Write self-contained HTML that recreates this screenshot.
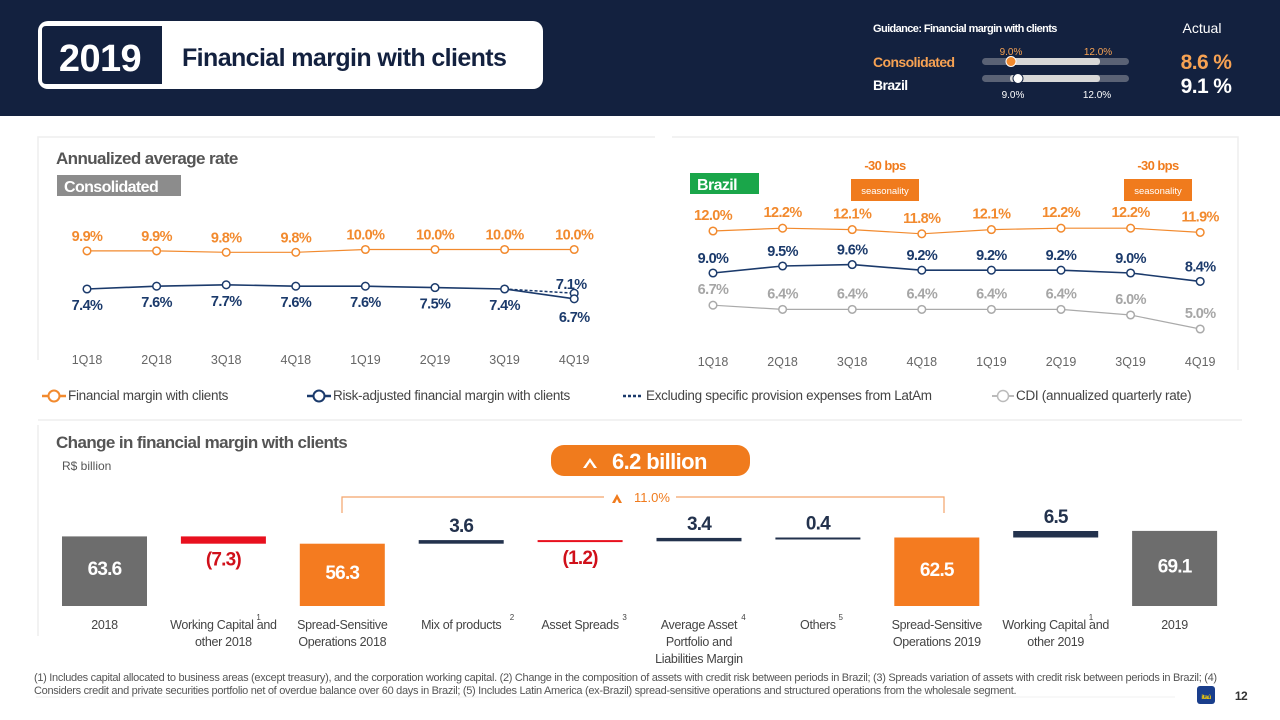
<!DOCTYPE html>
<html><head><meta charset="utf-8">
<style>
html,body{margin:0;padding:0;background:#fff;}
svg{display:block;font-family:"Liberation Sans",sans-serif;}
.b{font-weight:bold;letter-spacing:-0.6px;}
</style></head>
<body>
<svg id="s" width="1280" height="720" viewBox="0 0 1280 720" xmlns="http://www.w3.org/2000/svg">
<rect x="0" y="0" width="1280" height="116" fill="#13213f"/>
<rect x="38" y="21" width="505" height="68" rx="10" fill="#fff"/>
<path d="M46 26 H162 V84 H46 Q42 84 42 80 V30 Q42 26 46 26Z" fill="#13213f"/>
<text x="100" y="71" text-anchor="middle" fill="#fff" font-size="38" class="b">2019</text>
<text x="182" y="66" fill="#13213f" font-size="25" class="b">Financial margin with clients</text>

<g>
<text x="873" y="32" fill="#fff" font-size="11" class="b">Guidance: Financial margin with clients</text>
<text x="1202" y="33" fill="#fff" font-size="14" text-anchor="middle">Actual</text>
<text x="873" y="67" fill="#f7a253" font-size="14" class="b">Consolidated</text>
<text x="873" y="90" fill="#fff" font-size="14" class="b">Brazil</text>
<text x="1011" y="55" fill="#f7a253" font-size="10" text-anchor="middle">9.0%</text>
<text x="1098" y="55" fill="#f7a253" font-size="10" text-anchor="middle">12.0%</text>
<rect x="982" y="58" width="147" height="7" rx="3.5" fill="#5a6275"/>
<rect x="1010" y="58" width="90" height="7" rx="3" fill="#d8d8d8"/>
<circle cx="1011" cy="61.5" r="5" fill="#f28a2e" stroke="#fff" stroke-width="1"/>
<rect x="982" y="75" width="147" height="7" rx="3.5" fill="#5a6275"/>
<rect x="1010" y="75" width="90" height="7" rx="3" fill="#d8d8d8"/>
<circle cx="1018" cy="78.5" r="5" fill="#fff" stroke="#13213f" stroke-width="1"/>
<text x="1013" y="98" fill="#fff" font-size="10" text-anchor="middle">9.0%</text>
<text x="1097" y="98" fill="#fff" font-size="10" text-anchor="middle">12.0%</text>
<text x="1206" y="69" fill="#f7a253" font-size="21" class="b" text-anchor="middle">8.6 %</text>
<text x="1206" y="93" fill="#fff" font-size="21" class="b" text-anchor="middle">9.1 %</text>
</g>

<path d="M38 360 V137 H655" fill="none" stroke="#eee" stroke-width="1.5"/>
<path d="M672 137 H1238 V370" fill="none" stroke="#eee" stroke-width="1.5"/>
<line x1="38" y1="420" x2="1242" y2="420" stroke="#eee" stroke-width="1.5"/>
<line x1="38" y1="425" x2="38" y2="636" stroke="#eee" stroke-width="1.5"/>

<text x="56" y="164" fill="#555" font-size="17" class="b">Annualized average rate</text>
<rect x="57" y="175" width="124" height="21" fill="#8c8c8c"/>
<text x="64" y="192" fill="#fff" font-size="16" class="b">Consolidated</text>
<rect x="690" y="173" width="69" height="21" fill="#1aa64a"/>
<text x="697" y="190" fill="#fff" font-size="16" class="b">Brazil</text>

<g>
<text x="885" y="170" fill="#f07b1d" font-size="13" class="b" text-anchor="middle">-30 bps</text>
<rect x="851" y="179" width="68" height="22" fill="#f07b1d"/>
<text x="885" y="194" fill="#fff" font-size="9.5" text-anchor="middle">seasonality</text>
</g>
<g>
<text x="1158" y="170" fill="#f07b1d" font-size="13" class="b" text-anchor="middle">-30 bps</text>
<rect x="1124" y="179" width="68" height="22" fill="#f07b1d"/>
<text x="1158" y="194" fill="#fff" font-size="9.5" text-anchor="middle">seasonality</text>
</g>

<g id="lc"></g>
<g id="rc"></g>

<g>
<g><line x1="42" y1="396" x2="66" y2="396" stroke="#f28a2e" stroke-width="2.5"/><circle cx="54" cy="396" r="5.5" fill="#fff" stroke="#f28a2e" stroke-width="2"/><text x="68" y="400" font-size="13.5" fill="#444" letter-spacing="-0.3">Financial margin with clients</text></g>
<g><line x1="307" y1="396" x2="331" y2="396" stroke="#1b3a6b" stroke-width="2.5"/><circle cx="319" cy="396" r="5.5" fill="#fff" stroke="#1b3a6b" stroke-width="2"/><text x="333" y="400" font-size="13.5" fill="#444" letter-spacing="-0.3">Risk-adjusted financial margin with clients</text></g>
<g><line x1="623" y1="396" x2="643" y2="396" stroke="#1b3a6b" stroke-width="2.5" stroke-dasharray="3,2"/><text x="646" y="400" font-size="13.5" fill="#444" letter-spacing="-0.3">Excluding specific provision expenses from LatAm</text></g>
<g><line x1="992" y1="396" x2="1014" y2="396" stroke="#bbb" stroke-width="2"/><circle cx="1003" cy="396" r="5.5" fill="#fff" stroke="#bbb" stroke-width="1.5"/><text x="1016" y="400" font-size="13.5" fill="#444" letter-spacing="-0.3">CDI (annualized quarterly rate)</text></g>
</g>

<text x="56" y="448" fill="#555" font-size="17" class="b">Change in financial margin with clients</text>
<text x="62" y="470" fill="#555" font-size="12">R$ billion</text>
<rect x="551" y="445" width="199" height="31" rx="13" fill="#f07b1d"/>
<path d="M583 468 L590 458 L597 468 L594 468 L590 462 L586 468Z" fill="#fff"/>
<text x="612" y="469" fill="#fff" font-size="22" class="b">6.2 billion</text>
<path d="M342 513 V497 H604 M676 497 H944 V513" fill="none" stroke="#f4a46a" stroke-width="1.2"/>
<path d="M612 503 L617 494 L622 503 L619 503 L617 499 L615 503Z" fill="#f07b1d"/>
<text x="634" y="502" fill="#f07b1d" font-size="13">11.0%</text>

<g id="wf"></g>

<g font-size="11" fill="#555" letter-spacing="-0.3">
<text x="34" y="681">(1) Includes capital allocated to business areas (except treasury), and the corporation working capital. (2) Change in the composition of assets with credit risk between periods in Brazil; (3) Spreads variation of assets with credit risk between periods in Brazil; (4)</text>
<text x="34" y="694">Considers credit and private securities portfolio net of overdue balance over 60 days in Brazil; (5) Includes Latin America (ex-Brazil) spread-sensitive operations and structured operations from the wholesale segment.</text>
</g>
<line x1="36" y1="697" x2="1175" y2="697" stroke="#f2f2f2"/>
<rect x="1197" y="686" width="18" height="18" rx="3" fill="#1a3e8c"/>
<text x="1206" y="699" fill="#ffd200" font-size="6.5" text-anchor="middle" class="b">itaú</text>
<text x="1241" y="700" fill="#333" font-size="12" class="b" text-anchor="middle">12</text>
</svg>

<script>
const NS="http://www.w3.org/2000/svg";
const quarters=["1Q18","2Q18","3Q18","4Q18","1Q19","2Q19","3Q19","4Q19"];
const consFmc=[9.9,9.9,9.8,9.8,10.0,10.0,10.0,10.0];
const consRisk=[7.4,7.6,7.7,7.6,7.6,7.5,7.4,6.7];
const consExLatam=[7.4,7.1];
const brFmc=[12.0,12.2,12.1,11.8,12.1,12.2,12.2,11.9];
const brRisk=[9.0,9.5,9.6,9.2,9.2,9.2,9.0,8.4];
const brCdi=[6.7,6.4,6.4,6.4,6.4,6.4,6.0,5.0];
const wfCats=[["2018"],["Working Capital and","other 2018"],["Spread-Sensitive","Operations 2018"],["Mix of products"],["Asset Spreads"],["Average Asset","Portfolio and","Liabilities Margin"],["Others"],["Spread-Sensitive","Operations 2019"],["Working Capital and","other 2019"],["2019"]];
const wfSup=["","1","","2","3","4","5","","1",""];
const wfValues=[63.6,-7.3,56.3,3.6,-1.2,3.4,0.4,62.5,6.5,69.1];
const wfLabels=["63.6","(7.3)","56.3","3.6","(1.2)","3.4","0.4","62.5","6.5","69.1"];
const wfKind=["total","delta","subtotal","delta","delta","delta","delta","subtotal","delta","total"];

function el(tag,attrs,parent,txt){const e=document.createElementNS(NS,tag);for(const k in attrs)e.setAttribute(k,attrs[k]);if(txt!==undefined)e.textContent=txt;parent.appendChild(e);return e;}
function fmt(v){return v.toFixed(1)+"%";}

function lineChart(g,x0,step,k,series,axisY){
  const X=i=>x0+i*step;
  quarters.forEach((q,i)=>{const t=el("text",{x:X(i),y:axisY,"text-anchor":"middle","font-size":"12.5",fill:"#666"},g,q);
    
    });
  series.forEach(s=>{
    const Y=v=>s.yA-k*v;
    const pts=s.data.map((v,i)=>X(i)+","+Y(v)).join(" ");
    const pl=el("polyline",{points:pts,fill:"none",stroke:s.color,"stroke-width":s.w},g);
    
    
    s.data.forEach((v,i)=>{
      const c=el("circle",{cx:X(i),cy:Y(v),r:3.8,fill:"#fff",stroke:s.color,"stroke-width":1.5},g);
      
      
      const t=el("text",{x:X(i),y:Y(v)+s.off(i),"text-anchor":"middle","font-size":"14.5","font-weight":"bold","letter-spacing":"-0.6",fill:s.tcolor},g,fmt(v));
      
      
    });
  });
}
const lc=document.getElementById("lc");
(function(){const X=i=>87+i*69.6,Y=v=>392.6-14*v;
 const d=el("polyline",{points:X(6)+","+Y(consExLatam[0])+" "+X(7)+","+Y(consExLatam[1]),fill:"none",stroke:"#1b3a6b","stroke-width":1.5,"stroke-dasharray":"3,2"},lc);
 
 
 const c=el("circle",{cx:X(7),cy:Y(consExLatam[1]),r:3.8,fill:"#fff",stroke:"#1b3a6b","stroke-width":1.5},lc);
 
 
 const t=el("text",{x:X(7)-3,y:Y(consExLatam[1])-4,"text-anchor":"middle","font-size":"14.5","font-weight":"bold","letter-spacing":"-0.6",fill:"#1b3a6b"},lc,fmt(consExLatam[1]));
 
 
})();
lineChart(lc,87,69.6,14,[
 {name:"fmc",data:consFmc,yA:389.5,color:"#f28a2e",tcolor:"#f28a2e",w:1.2,off:()=>-10},
 {name:"risk-adjusted",data:consRisk,yA:392.6,color:"#1b3a6b",tcolor:"#1b3a6b",w:1.6,off:i=>i==7?23:21}
],364);
const rc=document.getElementById("rc");
lineChart(rc,713,69.6,14,[
 {name:"brazil-fmc",data:brFmc,yA:399,color:"#f28a2e",tcolor:"#f28a2e",w:1.2,off:()=>-11},
 {name:"brazil-risk-adjusted",data:brRisk,yA:399,color:"#1b3a6b",tcolor:"#1b3a6b",w:1.6,off:()=>-10},
 {name:"cdi",data:brCdi,yA:399,color:"#aaa",tcolor:"#a6a6a6",w:1.2,off:()=>-11}
],366);

const wf=document.getElementById("wf");
const WX=i=>104.5+i*118.9, WY=v=>600-v, base=606, bw=85;
let run=0;
wfValues.forEach((v,i)=>{
  const kind=wfKind[i]; let top,bot,fill,ly,lc2;
  if(kind!=="delta"){run=v;top=WY(v);bot=base;fill=kind==="total"?"#6d6d6d":"#f47b20";}
  else{const s=run,e=run+v;run=e;top=Math.min(WY(s),WY(e));bot=Math.max(WY(s),WY(e));if(bot-top<2)bot=top+2;fill=v<0?"#e8101e":"#23324d";}
  const r=el("rect",{x:WX(i)-bw/2,y:top,width:bw,height:bot-top,fill:fill},wf);
  
  
  if(kind!=="delta"){ly=top+(bot-top)/2+4;lc2="#fff";}
  else if(v<0){ly=bot+22;lc2="#d0101a";}
  else{ly=top-8;lc2="#23324d";}
  const t=el("text",{x:WX(i),y:ly,"text-anchor":"middle","font-size":"19","font-weight":"bold","letter-spacing":"-0.8",fill:lc2},wf,wfLabels[i]);
  
  
  wfCats[i].forEach((ln,j)=>{
    const c=el("text",{x:WX(i),y:629+j*17,"text-anchor":"middle","font-size":"12.5",fill:"#444","letter-spacing":"-0.3"},wf,ln);
    
    
  });
  if(wfSup[i]){const sx=wfCats[i][0].indexOf("Working")===0?WX(i)+33:WX(i)+(wfCats[i][0].length*3.1)+2;
    const sp=el("text",{x:sx,y:620,"font-size":"8",fill:"#444"},wf,wfSup[i]);
    
    }
});
</script>
</body></html>
